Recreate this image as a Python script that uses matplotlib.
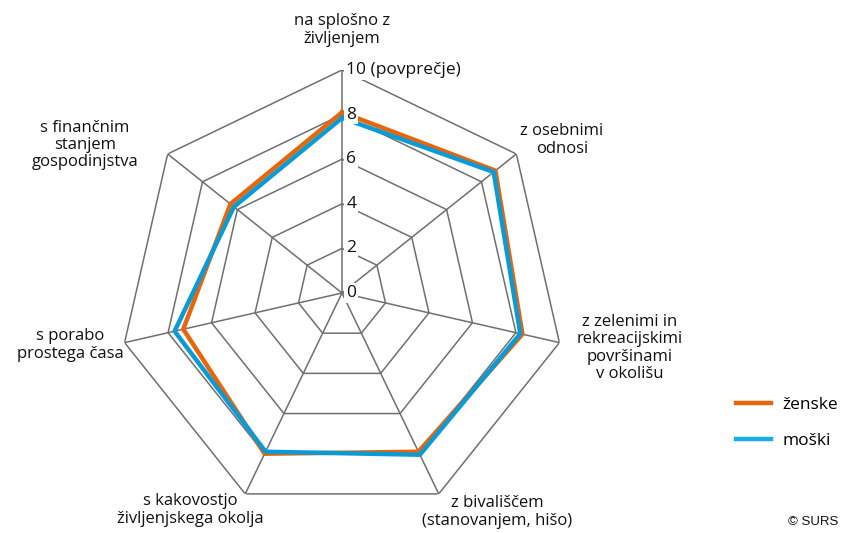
import numpy as np
import matplotlib
matplotlib.use("Agg")
import matplotlib.pyplot as plt
from matplotlib.lines import Line2D

plt.rcParams['font.family'] = ['Open Sans', 'DejaVu Sans']

categories = ["na splošno z\nživljenjem", "z osebnimi\nodnosi",
              "z zelenimi in\nrekreacijskimi\npovršinami\nv okolišu",
              "z bivališčem\n(stanovanjem, hišo)", "s kakovostjo\nživljenjskega okolja",
              "s porabo\nprostega časa", "s finančnim\nstanjem\ngospodinjstva"]
zenske = [8.1, 8.8, 8.3, 7.9, 8.0, 7.3, 6.4]
moski = [7.85, 8.7, 8.2, 8.05, 7.9, 7.7, 6.2]
series_names = ["ženske", "moški"]
tick_values = [0, 2, 4, 6, 8, 10]
tick_labels = ["0", "2", "4", "6", "8", "10 (povprečje)"]

col_f = '#E8650A'
col_m = '#0A9AD6'
col_m_leg = '#19AEE3'
grid_col = '#6f6f6f'

W, H = 842, 533
fig = plt.figure(figsize=(W/100, H/100), dpi=100)
cx, cy, R = 342, 240, 223
ax = fig.add_axes([(cx-R)/W, (cy-R)/H, 2*R/W, 2*R/H], projection='polar')
ax.set_theta_zero_location('N')
ax.set_theta_direction(-1)
ax.set_ylim(0, 10)
ax.grid(False)
ax.spines['polar'].set_visible(False)
ax.set_xticks([])
ax.set_yticks([])
ax.patch.set_alpha(0)

n = len(categories)
theta = np.arange(n) * 2*np.pi/n
th_c = np.append(theta, theta[0])

for lv in tick_values[1:]:
    ax.plot(th_c, [lv]*(n+1), color=grid_col, lw=1.1, zorder=1)
for t in theta:
    ax.plot([t, t], [0, 10], color=grid_col, lw=1.1, zorder=1)

ax.plot(th_c, zenske + [zenske[0]], color=col_f, lw=3.2, zorder=3)
ax.plot(th_c, moski + [moski[0]], color=col_m, lw=3.2, zorder=4)

for v, lab in zip(tick_values, tick_labels):
    ax.annotate(lab, xy=(0, v), xytext=(3, 0), textcoords='offset points',
                ha='left', va='center', fontsize=12.5, color='#111111', zorder=6,
                bbox=dict(boxstyle='square,pad=0.1', fc='white', ec='none'))

label_pos = [(342, 30), (562, 140), (630, 348), (497, 512), (190, 510), (70, 345), (85, 145)]
for lab, (px, py) in zip(categories, label_pos):
    fig.text(px/W, 1-py/H, lab, ha='center', va='center', fontsize=12,
             color='#111111', linespacing=1.12)

# legend
handles = [Line2D([], [], color=col_f, lw=3.2), Line2D([], [], color=col_m_leg, lw=3.2)]
fig.legend(handles=handles, labels=series_names, loc='upper left',
           bbox_to_anchor=(733/W, 1-393/H), frameon=False, fontsize=12.5,
           handlelength=2.0, handletextpad=0.65, labelspacing=1.18,
           borderpad=0.2, borderaxespad=0)
fig.text(838/W, 1-522/H, "© SURS", ha='right', va='center', fontsize=9.5, color='#111111',
         family=['Liberation Sans', 'DejaVu Sans'])

fig.savefig("out.png", dpi=100)
